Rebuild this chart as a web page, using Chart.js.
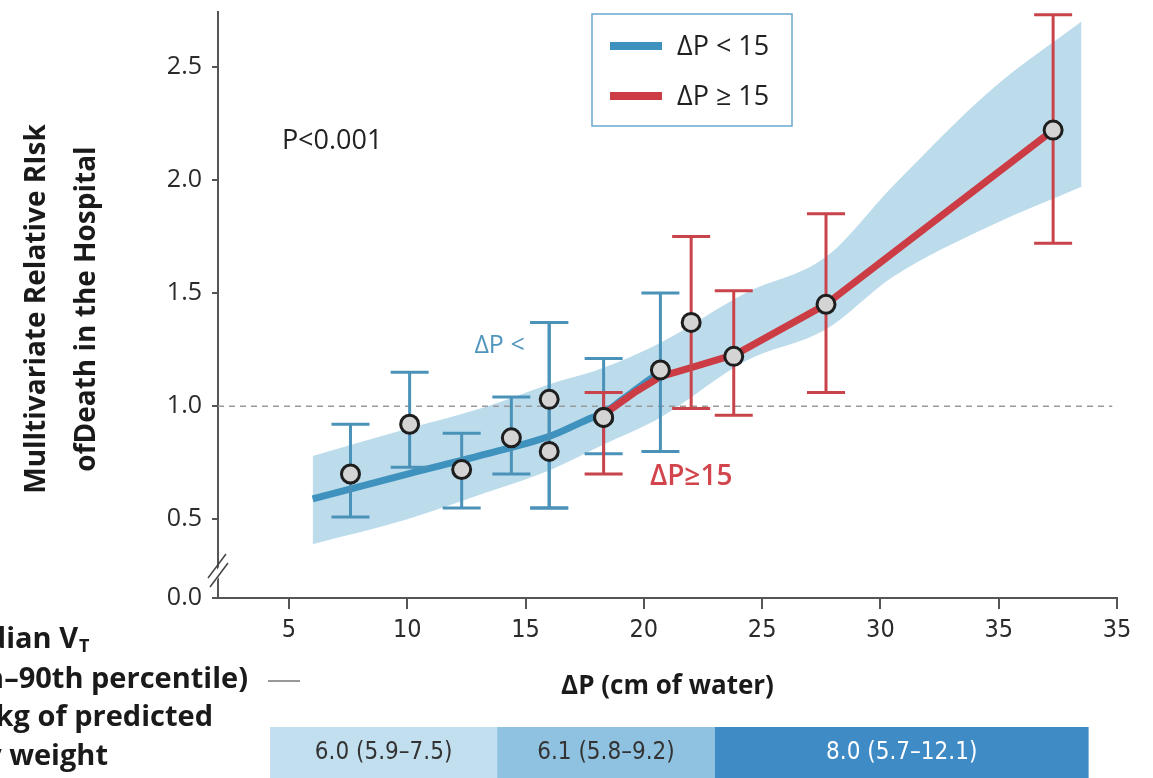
<!DOCTYPE html>
<html>
<head>
<meta charset="utf-8">
<script src="https://cdn.jsdelivr.net/npm/chart.js@4.4.1/dist/chart.umd.min.js"></script>
<style>
  html, body { margin: 0; padding: 0; background: #fff; }
  #wrap { width: 1153px; height: 778px; position: relative; }
</style>
</head>
<body>
<div id="wrap"><canvas id="chart" width="1153" height="778"></canvas></div>
<script>
// axis ticks (the last x label reads 35 in the original figure)
const xTicks = [5, 10, 15, 20, 25, 30, 35, 40];
const xTickText = ['5', '10', '15', '20', '25', '30', '35', '35'];
const yTicks = [0.152, 0.5, 1.0, 1.5, 2.0, 2.5];
const yTickText = ['0.0', '0.5', '1.0', '1.5', '2.0', '2.5'];

// observed relative risks, ΔP < 15 group (blue)
const blueX  = [7.6, 10.1, 12.3, 14.4, 16.0, 16.0, 18.3, 20.7];
const blueY  = [0.70, 0.92, 0.72, 0.86, 1.03, 0.80, 0.95, 1.16];
const blueLo = [0.51, 0.73, 0.55, 0.70, 0.55, 0.55, 0.79, 0.80];
const blueHi = [0.92, 1.15, 0.88, 1.04, 1.37, 1.37, 1.21, 1.50];

// ΔP ≥ 15 group (red)
const redX  = [18.3, 22.0, 23.8, 27.7, 37.3];
const redY  = [0.95, 1.37, 1.22, 1.45, 2.22];
const redLo = [0.70, 0.99, 0.96, 1.06, 1.72];
const redHi = [1.06, 1.75, 1.51, 1.85, 2.73];

// fitted curves
const blueFitX = [6.0, 10.0, 13.4, 16.1, 17.6, 18.3, 19.1, 20.0, 20.7];
const blueFitY = [0.59, 0.70, 0.79, 0.87, 0.94, 0.97, 1.03, 1.10, 1.15];
const redFitX = [18.4, 19.6, 20.7, 22.0, 23.9, 27.7, 37.3];
const redFitY = [0.97, 1.06, 1.13, 1.17, 1.23, 1.45, 2.22];

// confidence band
const bandX  = [6.0, 10.0, 13.4, 16.1, 18.3, 20.7, 24.3, 27.7, 30.5, 34.7, 38.5];
const bandHi = [0.78, 0.90, 1.00, 1.10, 1.17, 1.28, 1.50, 1.66, 1.97, 2.40, 2.70];
const bandLo = [0.39, 0.50, 0.62, 0.72, 0.83, 0.95, 1.20, 1.34, 1.57, 1.80, 1.97];

// median VT strip below the axis (edges in ΔP units)
const vtEdges = [4.2, 13.8, 23.0, 38.8];
const vtText = ['6.0 (5.9–7.5)', '6.1 (5.8–9.2)', '8.0 (5.7–12.1)'];

const BLUE = '#3f92bd';
const BLUE_BAR = '#4b92b9';
const RED = '#cb3c45';
const RED_BAR = '#c8434a';
const BAND = '#bcdcec';
const narrow = "'DejaVu Sans Condensed', 'Liberation Sans Narrow', sans-serif";
const sans = "'Open Sans', 'Noto Sans', sans-serif";

function pts(xs, ys) {
    return xs.map((x, i) => ({ x: x, y: ys[i] }));
}

const BLUE_PTS = 6;

// error bars, drawn just before the first point dataset
function drawBars(chart, xs, lo, hi, color) {
    const ctx = chart.ctx;
    const sx = chart.scales.x, sy = chart.scales.y;
    ctx.save();
    ctx.strokeStyle = color;
    ctx.lineWidth = 3;
    for (let i = 0; i < xs.length; i++) {
        const px = sx.getPixelForValue(xs[i]);
        const top = sy.getPixelForValue(hi[i]);
        const bot = sy.getPixelForValue(lo[i]);
        ctx.beginPath();
        ctx.moveTo(px, top); ctx.lineTo(px, bot);
        ctx.moveTo(px - 19, top); ctx.lineTo(px + 19, top);
        ctx.moveTo(px - 19, bot); ctx.lineTo(px + 19, bot);
        ctx.stroke();
    }
    ctx.restore();
}

const decor = {
    id: 'decor',
    beforeDatasetDraw(chart, args) {
        if (args.index !== BLUE_PTS) return;
        drawBars(chart, blueX, blueLo, blueHi, BLUE_BAR);
        drawBars(chart, redX, redLo, redHi, RED_BAR);
    },
    afterDraw(chart) {
        const ctx = chart.ctx;
        const sx = chart.scales.x, sy = chart.scales.y;
        const area = chart.chartArea;
        ctx.save();

        // axis break marks
        ctx.fillStyle = '#fff';
        ctx.beginPath();
        ctx.moveTo(area.left - 4, 574); ctx.lineTo(area.left + 6, 560);
        ctx.lineTo(area.left + 6, 570); ctx.lineTo(area.left - 4, 584);
        ctx.closePath();
        ctx.fill();
        ctx.strokeStyle = '#444';
        ctx.lineWidth = 1.5;
        ctx.beginPath();
        ctx.moveTo(area.left - 10, 578); ctx.lineTo(area.left + 8, 554);
        ctx.moveTo(area.left - 8, 587); ctx.lineTo(area.left + 10, 563);
        ctx.stroke();

        // annotations
        ctx.textBaseline = 'middle';
        ctx.fillStyle = '#222';
        ctx.font = '27px ' + sans;
        ctx.textAlign = 'left';
        ctx.fillText('P<0.001', sx.getPixelForValue(4.7), sy.getPixelForValue(2.17));
        ctx.textAlign = 'center';
        ctx.fillStyle = '#4f95bd';
        ctx.font = '25px ' + sans;
        ctx.fillText('ΔP <', sx.getPixelForValue(13.9), sy.getPixelForValue(1.265));
        ctx.fillStyle = '#d2454c';
        ctx.font = '600 28px ' + sans;
        ctx.fillText('ΔP≥15', sx.getPixelForValue(22.0), sy.getPixelForValue(0.685));

        // legend box
        ctx.strokeStyle = '#6aa8cf';
        ctx.lineWidth = 1.5;
        ctx.strokeRect(592, 14, 200, 112);
        ctx.lineWidth = 8;
        ctx.strokeStyle = BLUE;
        ctx.beginPath(); ctx.moveTo(610, 46); ctx.lineTo(662, 46); ctx.stroke();
        ctx.strokeStyle = RED;
        ctx.beginPath(); ctx.moveTo(610, 96); ctx.lineTo(662, 96); ctx.stroke();
        ctx.fillStyle = '#222';
        ctx.font = '27px ' + sans;
        ctx.textAlign = 'left';
        ctx.fillText('ΔP < 15', 677, 47);
        ctx.fillText('ΔP ≥ 15', 677, 97);

        // axis titles
        ctx.font = 'bold 26px ' + sans;
        ctx.textAlign = 'center';
        ctx.fillStyle = '#1a1a1a';
        ctx.fillText('ΔP (cm of water)', (area.left + area.right) / 2, 687);
        ctx.save();
        ctx.translate(37, 309);
        ctx.rotate(-Math.PI / 2);
        ctx.font = 'bold 28px ' + sans;
        ctx.fillText('Mulltivariate Relative RIsk', 0, 0);
        ctx.fillText('ofDeath in the Hospital', 0, 50);
        ctx.restore();

        // median VT labels (cut off at the left edge in the original)
        ctx.font = 'bold 29px ' + sans;
        ctx.textAlign = 'right';
        ctx.fillText('Median V', 78, 640);
        ctx.font = 'bold 18px ' + sans;
        ctx.textAlign = 'left';
        ctx.fillText('T', 79, 647);
        ctx.font = 'bold 29px ' + sans;
        ctx.textAlign = 'right';
        ctx.fillText('(10th–90th percentile)', 248, 680);
        ctx.fillText('ml/kg of predicted', 213, 718);
        ctx.fillText('body weight', 108, 757);
        ctx.strokeStyle = '#777';
        ctx.lineWidth = 1.5;
        ctx.beginPath(); ctx.moveTo(268, 681); ctx.lineTo(300, 681); ctx.stroke();

        // median VT strip
        const fills = ['#c2dfef', '#8fc1e0', '#3f8bc6'];
        const inks = ['#333', '#333', '#fff'];
        ctx.font = '24px ' + narrow;
        ctx.textAlign = 'center';
        for (let i = 0; i < vtText.length; i++) {
            const a = sx.getPixelForValue(vtEdges[i]);
            const b = sx.getPixelForValue(vtEdges[i + 1]);
            ctx.fillStyle = fills[i];
            ctx.fillRect(a, 727, b - a, 51);
            ctx.fillStyle = inks[i];
            ctx.fillText(vtText[i], (a + b) / 2, 753);
        }
        ctx.restore();
    }
};

new Chart(document.getElementById('chart'), {
    type: 'scatter',
    data: {
        datasets: [
            { type: 'line', data: pts(bandX, bandHi), borderWidth: 0, pointRadius: 0,
              cubicInterpolationMode: 'monotone', fill: '+1', backgroundColor: BAND, order: 10 },
            { type: 'line', data: pts(bandX, bandLo), borderWidth: 0, pointRadius: 0,
              cubicInterpolationMode: 'monotone', fill: false, order: 11 },
            { type: 'line', data: [{ x: 2, y: 1 }, { x: 39.8, y: 1 }], borderColor: '#9a9a9a',
              borderWidth: 1.5, borderDash: [6, 5], pointRadius: 0, fill: false, order: 9 },
            { type: 'line', data: pts(blueFitX, blueFitY), borderColor: BLUE, borderWidth: 7,
              pointRadius: 0, cubicInterpolationMode: 'monotone', fill: false, order: 6 },
            { type: 'line', data: pts(redFitX, redFitY), borderColor: RED, borderWidth: 7,
              pointRadius: 0, tension: 0, borderJoinStyle: 'round', fill: false, order: 5 },
            { type: 'line', data: [], order: 8 },
            { data: pts(blueX, blueY), pointRadius: 9, pointBorderWidth: 3,
              pointBackgroundColor: '#d4d4d4', pointBorderColor: '#1e1e1e', order: 2 },
            { data: pts(redX, redY), pointRadius: 9, pointBorderWidth: 3,
              pointBackgroundColor: '#d4d4d4', pointBorderColor: '#1e1e1e', order: 1 }
        ]
    },
    options: {
        responsive: false,
        animation: false,
        events: [],
        layout: { padding: { left: 0, top: 10, right: 36, bottom: 0 } },
        plugins: { legend: { display: false }, tooltip: { enabled: false } },
        scales: {
            x: {
                type: 'linear', min: 2, max: 40,
                afterBuildTicks: s => { s.ticks = xTicks.map(v => ({ value: v })); },
                afterFit: s => { s.height = 180; s.paddingLeft = 0; s.paddingRight = 0; },
                ticks: {
                    callback: (v, i) => xTickText[i],
                    color: '#2b2b2b', font: { family: narrow, size: 25 },
                    padding: 6, maxRotation: 0, autoSkip: false
                },
                grid: { drawOnChartArea: false, tickLength: 11, color: '#555', lineWidth: 2 },
                border: { color: '#555', width: 2 }
            },
            y: {
                min: 0.152, max: 2.742,
                afterBuildTicks: s => { s.ticks = yTicks.map(v => ({ value: v })); },
                afterFit: s => { s.width = 218; s.paddingTop = 0; s.paddingBottom = 0; },
                ticks: {
                    callback: (v, i) => yTickText[i],
                    color: '#2b2b2b', font: { family: sans, size: 25 },
                    padding: 10, autoSkip: false
                },
                grid: { drawOnChartArea: false, tickLength: 6, color: '#555', lineWidth: 2 },
                border: { color: '#555', width: 2 }
            }
        }
    },
    plugins: [decor]
});
</script>
</body>
</html>
